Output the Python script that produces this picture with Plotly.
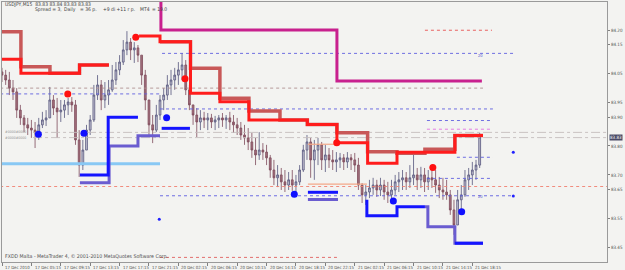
import plotly.graph_objects as go

# ---------------- data ----------------
# candles: one candle every 2 bar units (bar index 0 = "17 Dec 2010")
candle_bar = [2 * k for k in range(131)]
candle_open = [84.056, 84.045, 84.028, 84.000, 83.987, 83.924, 83.897, 83.873, 83.862, 83.855,
               83.845, 83.873, 83.890, 83.897, 83.959, 83.931, 83.918, 83.924, 83.942, 83.952,
               83.942, 83.821, 83.734, 83.786, 83.855, 83.890, 83.976, 84.011, 83.959, 83.976,
               83.994, 84.028, 84.063, 84.090, 84.132, 84.159, 84.132, 84.139, 84.114, 84.045,
               83.959, 83.873, 83.855, 83.907, 83.959, 83.976, 84.011, 84.028, 84.045, 84.063,
               84.080, 83.994, 83.942, 83.907, 83.883, 83.897, 83.890, 83.897, 83.883, 83.890,
               83.897, 83.890, 83.897, 83.883, 83.873, 83.862, 83.838, 83.828, 83.814, 83.786,
               83.769, 83.786, 83.779, 83.759, 83.717, 83.690, 83.700, 83.676, 83.665, 83.683,
               83.665, 83.676, 83.717, 83.786, 83.814, 83.752, 83.786, 83.804, 83.752, 83.769,
               83.752, 83.745, 83.752, 83.759, 83.745, 83.759, 83.752, 83.734, 83.665, 83.631,
               83.641, 83.655, 83.665, 83.648, 83.665, 83.641, 83.631, 83.648, 83.676, 83.683,
               83.690, 83.676, 83.690, 83.700, 83.683, 83.700, 83.676, 83.690, 83.683, 83.665,
               83.648, 83.641, 83.631, 83.579, 83.527, 83.614, 83.631, 83.683, 83.700, 83.717,
               83.734]
candle_high = [84.070, 84.063, 84.056, 84.028, 84.000, 83.942, 83.907, 83.897, 83.890, 83.883,
               83.897, 83.918, 83.924, 84.004, 83.976, 83.966, 83.959, 83.959, 83.966, 83.969,
               83.959, 83.855, 83.821, 83.873, 83.907, 84.011, 84.045, 84.028, 84.021, 84.028,
               84.080, 84.090, 84.114, 84.166, 84.197, 84.173, 84.159, 84.149, 84.114, 84.063,
               83.959, 83.907, 83.942, 83.976, 84.000, 84.045, 84.063, 84.070, 84.090, 84.121,
               84.097, 84.011, 83.942, 83.931, 83.924, 83.918, 83.914, 83.911, 83.904, 83.907,
               83.914, 83.907, 83.918, 83.907, 83.897, 83.883, 83.873, 83.862, 83.845, 83.828,
               83.848, 83.810, 83.804, 83.769, 83.752, 83.734, 83.724, 83.717, 83.710, 83.717,
               83.700, 83.734, 83.804, 83.838, 83.828, 83.821, 83.828, 83.814, 83.804, 83.793,
               83.786, 83.779, 83.776, 83.772, 83.779, 83.772, 83.776, 83.759, 83.672, 83.665,
               83.683, 83.690, 83.683, 83.690, 83.683, 83.676, 83.683, 83.700, 83.710, 83.717,
               83.710, 83.734, 83.769, 83.724, 83.728, 83.724, 83.717, 83.724, 83.717, 83.693,
               83.690, 83.683, 83.648, 83.614, 83.648, 83.665, 83.717, 83.724, 83.745, 83.752,
               83.845]
candle_low = [84.021, 84.011, 83.976, 83.959, 83.897, 83.873, 83.848, 83.838, 83.828, 83.793,
              83.821, 83.862, 83.869, 83.897, 83.907, 83.828, 83.883, 83.897, 83.907, 83.918,
              83.804, 83.693, 83.717, 83.786, 83.838, 83.883, 83.959, 83.924, 83.931, 83.942,
              83.987, 84.011, 84.045, 84.080, 84.114, 84.097, 84.087, 84.090, 84.011, 83.924,
              83.838, 83.810, 83.848, 83.890, 83.924, 83.959, 83.976, 83.994, 84.011, 84.028,
              83.976, 83.924, 83.873, 83.831, 83.855, 83.862, 83.855, 83.862, 83.855, 83.862,
              83.866, 83.859, 83.855, 83.845, 83.838, 83.821, 83.804, 83.786, 83.759, 83.734,
              83.752, 83.752, 83.734, 83.690, 83.665, 83.658, 83.648, 83.641, 83.648, 83.645,
              83.641, 83.665, 83.710, 83.752, 83.690, 83.683, 83.734, 83.717, 83.710, 83.724,
              83.717, 83.710, 83.724, 83.717, 83.724, 83.717, 83.710, 83.648, 83.603, 83.596,
              83.620, 83.631, 83.624, 83.627, 83.614, 83.603, 83.614, 83.631, 83.641, 83.648,
              83.648, 83.655, 83.665, 83.648, 83.655, 83.641, 83.648, 83.655, 83.638, 83.620,
              83.614, 83.614, 83.562, 83.493, 83.527, 83.562, 83.624, 83.648, 83.665, 83.683,
              83.724]
candle_close = [84.045, 84.028, 84.000, 83.987, 83.924, 83.897, 83.873, 83.862, 83.855, 83.845,
                83.873, 83.890, 83.897, 83.959, 83.931, 83.918, 83.924, 83.942, 83.952, 83.942,
                83.821, 83.734, 83.786, 83.855, 83.890, 83.976, 84.011, 83.959, 83.976, 83.994,
                84.028, 84.063, 84.090, 84.132, 84.159, 84.132, 84.139, 84.114, 84.045, 83.959,
                83.873, 83.855, 83.907, 83.959, 83.976, 84.011, 84.028, 84.045, 84.063, 84.080,
                83.994, 83.942, 83.907, 83.883, 83.897, 83.890, 83.897, 83.883, 83.890, 83.897,
                83.890, 83.897, 83.883, 83.873, 83.862, 83.838, 83.828, 83.814, 83.786, 83.769,
                83.786, 83.779, 83.759, 83.717, 83.690, 83.700, 83.676, 83.665, 83.683, 83.665,
                83.676, 83.717, 83.786, 83.814, 83.752, 83.786, 83.804, 83.752, 83.769, 83.752,
                83.745, 83.752, 83.759, 83.745, 83.759, 83.752, 83.734, 83.665, 83.631, 83.641,
                83.655, 83.665, 83.648, 83.665, 83.641, 83.631, 83.648, 83.676, 83.683, 83.690,
                83.676, 83.690, 83.700, 83.683, 83.700, 83.676, 83.690, 83.683, 83.665, 83.648,
                83.641, 83.631, 83.579, 83.527, 83.614, 83.631, 83.683, 83.700, 83.717, 83.734,
                83.831]

# step indicator lines (bar where a level starts, level)
bright_red_x = [-1, 10.3, 42.2, 58.2, None, 74.6, 86.0, 102.6, 118.6, 134.4, 166.2, 182.3, 199.0, 215.0, 246.5, 261.8]
bright_red_y = [84.100, 84.051, 84.080, 84.080, None, 84.180, 84.160, 83.982, 83.953, 83.890, 83.874, 83.811, 83.740, 83.778, 83.836, 83.836]
dark_red_x = [-1, 10.3, 26.1, 42.2, 58.2, None, 86.0, 102.6, 118.6, 134.4, 151.3, 166.2, 182.3, 199.0, 215.0, 230.2, 246.5, 261.8]
dark_red_y = [84.195, 84.074, 84.051, 84.080, 84.080, None, 84.160, 84.069, 83.965, 83.921, 83.890, 83.874, 83.846, 83.780, 83.775, 83.789, 83.836, 83.836]
blue_x = [42.4, 57.8, 74.0, None, 86.9, 102.3, None, 166.5, 182.9, None, 198.6, 198.6, 215.0, 230.2, None, 246.5, 261.8]
blue_y = [83.700, 83.899, 83.899, None, 83.861, 83.861, None, 83.640, 83.640, None, 83.614, 83.559, 83.590, 83.590, None, 83.464, 83.464]
slate_x = [42.4, 58.3, 74.0, 86.0, None, 166.5, 182.9, None, 230.2, 231.8, 246.5, 261.8]
slate_y = [83.673, 83.800, 83.835, 83.835, None, 83.615, 83.615, None, 83.590, 83.521, 83.464, 83.464]
skyblue_x = [-1, 86.0]
skyblue_y = [83.739, 83.739]
magenta_x = [86.5, 86.5, 182.3, 261.2]
magenta_y = [84.35, 84.201, 84.025, 84.025]

red_dot_x = [35.8, 72.8, 99.6, 182.2, 234.5]
red_dot_y = [83.980, 84.176, 84.032, 83.811, 83.726]
blue_dot_x = [19.8, 44.6, 89.6, 159.1, 213.0, 250.2]
blue_dot_y = [83.841, 83.844, 83.898, 83.633, 83.610, 83.573]
small_dot_x = [278.3, 278.3, 85.6]
small_dot_y = [83.778, 83.627, 83.547]

# horizontal objects: level, from bar, to bar, colour, dash
hlines = [
    (84.200, 230.2, 266.7, "#e85050", "dot"),
    (84.120, 87.1, 278.6, "#6060e0", "dot"),
    (84.000, -1, 261.8, "#b09090", "dot"),
    (83.980, -1, 86.0, "#6060e0", "dot"),
    (83.928, 86.0, 267.2, "#6060e0", "dot"),
    (83.888, 231.3, 267.2, "#6060e0", "dot"),
    (83.858, 231.3, 267.2, "#e070e0", "dot"),
    (83.847, 16.9, 330.0, "#c4bcbc", "dashdot"),
    (83.829, 16.9, 330.0, "#c4bcbc", "dashdot"),
    (83.761, 247.6, 267.2, "#6060e0", "dot"),
    (83.688, 231.3, 267.2, "#6060e0", "dot"),
    (83.660, -1, 330.0, "#f08070", "dot"),
    (83.628, 86.0, 278.6, "#6060e0", "dot"),
    (83.415, 86.0, 182.3, "#e06060", "dot"),
]
salmon_lines = [(83.806, 166.5, 182.3), (83.668, 166.5, 198.6)]

tick_bars = [16 * i for i in range(17)]
tick_labels = ["17 Dec 2010", "17 Dec 05:15", "17 Dec 09:15", "17 Dec 13:15", "17 Dec 17:15",
               "17 Dec 21:15", "20 Dec 02:15", "20 Dec 06:15", "20 Dec 10:15", "20 Dec 14:15",
               "20 Dec 18:15", "20 Dec 22:15", "21 Dec 02:15", "21 Dec 06:15", "21 Dec 10:15",
               "21 Dec 14:15", "21 Dec 18:15"]
price_ticks = [84.30, 84.20, 84.15, 84.05, 83.95, 83.90, 83.80, 83.70, 83.65, 83.55, 83.45]
price_labels = ["84.30", "84.20", "84.15", "84.05", "83.95", "83.90", "83.80", "83.70", "83.65", "83.55", "83.45"]
current_price = 83.83

# ---------------- figure ----------------
FONT = "Liberation Sans Narrow, DejaVu Sans Condensed, Liberation Sans"
fig = go.Figure()

for lvl, x0, x1, col, dash in hlines:
    fig.add_trace(go.Scatter(x=[x0, x1], y=[lvl, lvl], mode="lines",
                             line=dict(color=col, width=0.9, dash=dash), hoverinfo="skip"))
for lvl, x0, x1 in salmon_lines:
    fig.add_trace(go.Scatter(x=[x0, x1], y=[lvl, lvl], mode="lines",
                             line=dict(color="#f4a888", width=1.2), hoverinfo="skip"))

fig.add_trace(go.Scatter(x=skyblue_x, y=skyblue_y, mode="lines",
                         line=dict(color="#88c8f4", width=3)))

fig.add_trace(go.Candlestick(
    x=candle_bar, open=candle_open, high=candle_high, low=candle_low, close=candle_close,
    increasing=dict(line=dict(color="#55557c", width=0.8), fillcolor="#c4c2d2"),
    decreasing=dict(line=dict(color="#7e4a5a", width=0.8), fillcolor="#a2707c"),
    whiskerwidth=0))

fig.add_trace(go.Scatter(x=magenta_x, y=magenta_y, mode="lines", line_shape="hv",
                         line=dict(color="#c8208e", width=3)))
fig.add_trace(go.Scatter(x=dark_red_x, y=dark_red_y, mode="lines", line_shape="hv",
                         line=dict(color="#c85858", width=3.5), connectgaps=False))
fig.add_trace(go.Scatter(x=bright_red_x, y=bright_red_y, mode="lines", line_shape="hv",
                         line=dict(color="#ff1c1c", width=3), connectgaps=False))
fig.add_trace(go.Scatter(x=slate_x, y=slate_y, mode="lines", line_shape="hv",
                         line=dict(color="#6a5cd0", width=3), connectgaps=False))
fig.add_trace(go.Scatter(x=blue_x, y=blue_y, mode="lines", line_shape="hv",
                         line=dict(color="#1414ff", width=3), connectgaps=False))

fig.add_trace(go.Scatter(x=red_dot_x, y=red_dot_y, mode="markers",
                         marker=dict(color="#ff1010", size=7)))
fig.add_trace(go.Scatter(x=blue_dot_x, y=blue_dot_y, mode="markers",
                         marker=dict(color="#1010ff", size=7)))
fig.add_trace(go.Scatter(x=small_dot_x, y=small_dot_y, mode="markers",
                         marker=dict(color="#2020ff", size=3)))

annotations = []
for b, t in zip(tick_bars, tick_labels):
    annotations.append(dict(x=b + 0.6, y=-0.004, xref="x", yref="paper", text=t, showarrow=False,
                            xanchor="left", yanchor="top", font=dict(family=FONT, size=4.3, color="#505050")))
txt = dict(family=FONT, size=5.0, color="#404040")
annotations += [
    dict(x=0.002, y=0.992, xref="paper", yref="paper", text="USDJPY,M15  83.83 83.84 83.83 83.83",
         showarrow=False, xanchor="left", yanchor="middle", font=txt),
    dict(x=0.052, y=0.972, xref="paper", yref="paper", text="Spread = 3,", showarrow=False,
         xanchor="left", yanchor="middle", font=txt),
    dict(x=0.099, y=0.972, xref="paper", yref="paper", text="Daily", showarrow=False,
         xanchor="left", yanchor="middle", font=txt),
    dict(x=0.126, y=0.972, xref="paper", yref="paper", text="= 36 p.", showarrow=False,
         xanchor="left", yanchor="middle", font=txt),
    dict(x=0.163, y=0.972, xref="paper", yref="paper", text="+9 di +11 r p.", showarrow=False,
         xanchor="left", yanchor="middle", font=txt),
    dict(x=0.224, y=0.972, xref="paper", yref="paper", text="MT4", showarrow=False,
         xanchor="left", yanchor="middle", font=txt),
    dict(x=0.245, y=0.972, xref="paper", yref="paper", text="= 19.0", showarrow=False,
         xanchor="left", yanchor="middle", font=txt),
    dict(x=0.002, y=0.02, xref="paper", yref="paper",
         text="FXDD Malta - MetaTrader 4, © 2001-2010 MetaQuotes Software Corp.",
         showarrow=False, xanchor="left", yanchor="middle", font=dict(family=FONT, size=5.2, color="#505050")),
    dict(x=0.002, y=83.847, xref="paper", yref="y", text="#0000#0000", showarrow=False,
         xanchor="left", yanchor="middle", font=dict(family=FONT, size=3.5, color="#909090")),
    dict(x=0.002, y=83.829, xref="paper", yref="y", text="#0000#0000", showarrow=False,
         xanchor="left", yanchor="middle", font=dict(family=FONT, size=3.5, color="#909090")),
    dict(x=260.7, y=84.114, xref="x", yref="y", text="20", showarrow=False,
         xanchor="center", yanchor="middle", font=dict(family=FONT, size=4, color="#5050d0")),
    dict(x=260.7, y=83.624, xref="x", yref="y", text="20", showarrow=False,
         xanchor="center", yanchor="middle", font=dict(family=FONT, size=4, color="#5050d0")),
    dict(x=1, y=current_price, xref="paper", yref="y", text="83.83", showarrow=False,
         xanchor="left", yanchor="middle", xshift=2, bgcolor="#4a4a66", borderpad=0,
         font=dict(family=FONT, size=4.5, color="#ffffff")),
]

fig.update_layout(
    width=625, height=270,
    margin=dict(l=2, r=18, t=2, b=8),
    paper_bgcolor="#f3f3f1", plot_bgcolor="#f3f3f1",
    showlegend=False,
    annotations=annotations,
    xaxis=dict(range=[0, 329.3], showgrid=False, zeroline=False, rangeslider=dict(visible=False),
               tickvals=tick_bars, showticklabels=False, ticks="outside", ticklen=3,
               tickcolor="#808080", showline=True, linecolor="#9a9a9a", mirror=True),
    yaxis=dict(range=[83.3991, 84.2976], side="right", showgrid=False, zeroline=False,
               tickvals=price_ticks, ticktext=price_labels, ticks="outside", ticklen=2,
               tickcolor="#808080", tickfont=dict(family=FONT, size=4.5, color="#505050"),
               showline=True, linecolor="#9a9a9a", mirror=True),
)

fig.write_html("out.html")
